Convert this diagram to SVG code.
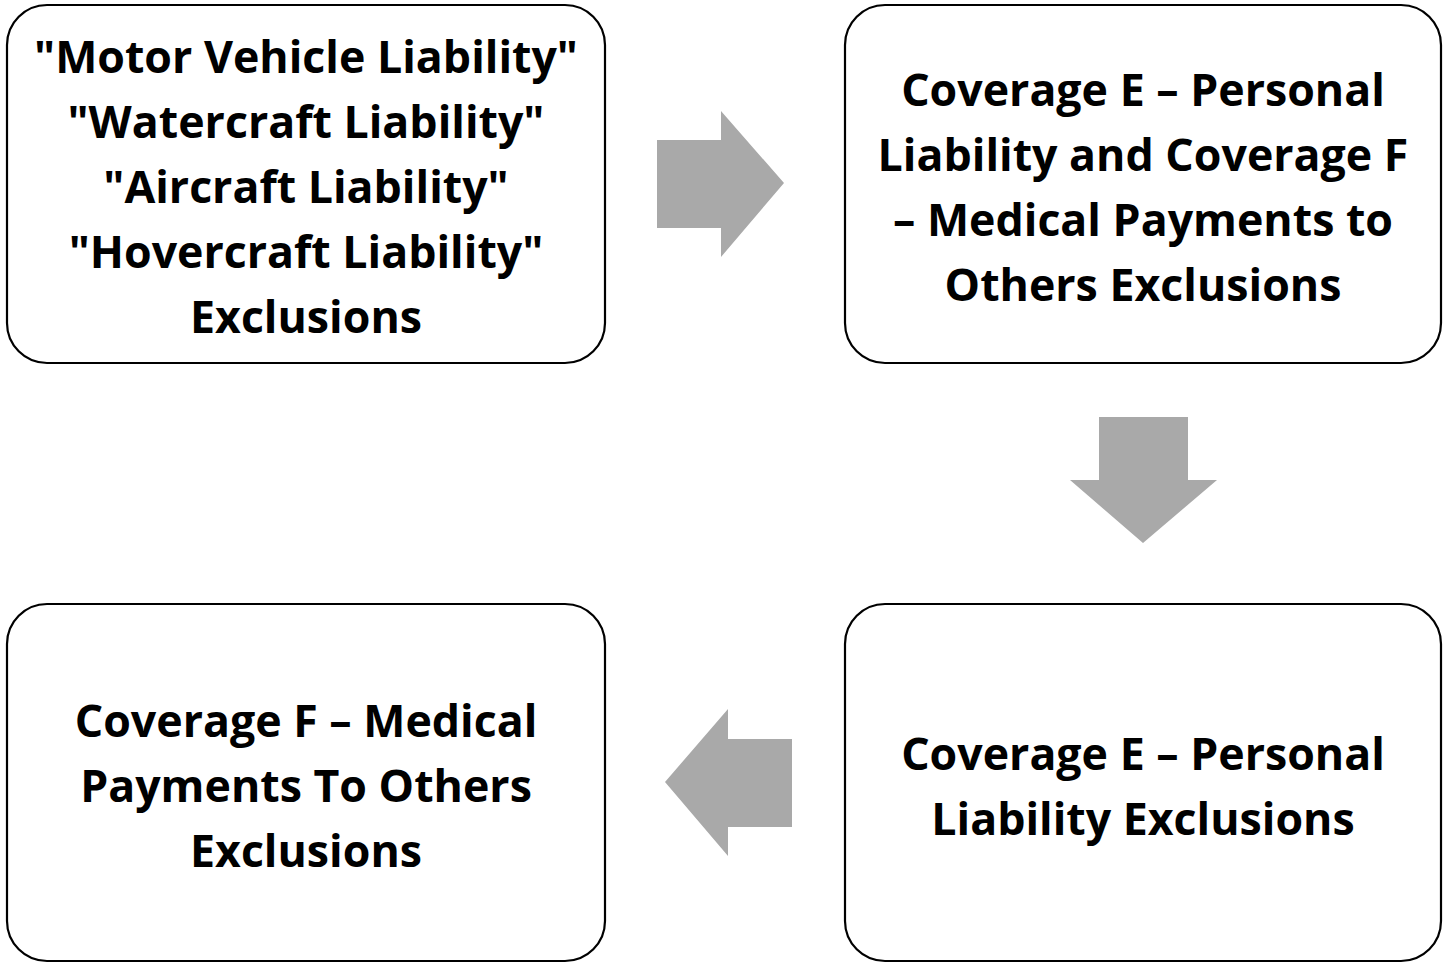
<svg xmlns="http://www.w3.org/2000/svg" width="1443" height="963" viewBox="0 0 1443 963">
<style>
.box{fill:#fff;stroke:#000;stroke-width:2.2}
.t{font-family:"Open Sans","Liberation Sans",sans-serif;font-weight:700;font-size:44.7px;fill:#000;text-anchor:middle}
.arr{fill:#a9a9a9}
</style>
<rect width="1443" height="963" fill="#fff"/>
<g id="node1">
<rect class="box" x="7" y="5" width="598" height="358" rx="40"/>
<text class="t" x="306" y="73">"Motor Vehicle Liability"</text>
<text class="t" x="306" y="138">"Watercraft Liability"</text>
<text class="t" x="306" y="203">"Aircraft Liability"</text>
<text class="t" x="306" y="268">"Hovercraft Liability"</text>
<text class="t" x="306" y="333">Exclusions</text>
</g>
<g id="node2">
<rect class="box" x="845" y="5" width="596" height="358" rx="40"/>
<text class="t" x="1143" y="106">Coverage E – Personal</text>
<text class="t" x="1143" y="171">Liability and Coverage F</text>
<text class="t" x="1143" y="236">– Medical Payments to</text>
<text class="t" x="1143" y="301">Others Exclusions</text>
</g>
<g id="node3">
<rect class="box" x="845" y="604" width="596" height="357" rx="40"/>
<text class="t" x="1143" y="770">Coverage E – Personal</text>
<text class="t" x="1143" y="835">Liability Exclusions</text>
</g>
<g id="node4">
<rect class="box" x="7" y="604" width="598" height="357" rx="40"/>
<text class="t" x="306" y="737">Coverage F – Medical</text>
<text class="t" x="306" y="802">Payments To Others</text>
<text class="t" x="306" y="867">Exclusions</text>
</g>
<g id="connectors">
<polygon class="arr" points="657,140 721,140 721,111 784,183 721,257 721,228 657,228"/>
<polygon class="arr" points="1099,417 1188,417 1188,480 1217,480 1143,543 1070,480 1099,480"/>
<polygon class="arr" points="792,739 728,739 728,709 665,782 728,856 728,827 792,827"/>
</g>
</svg>
